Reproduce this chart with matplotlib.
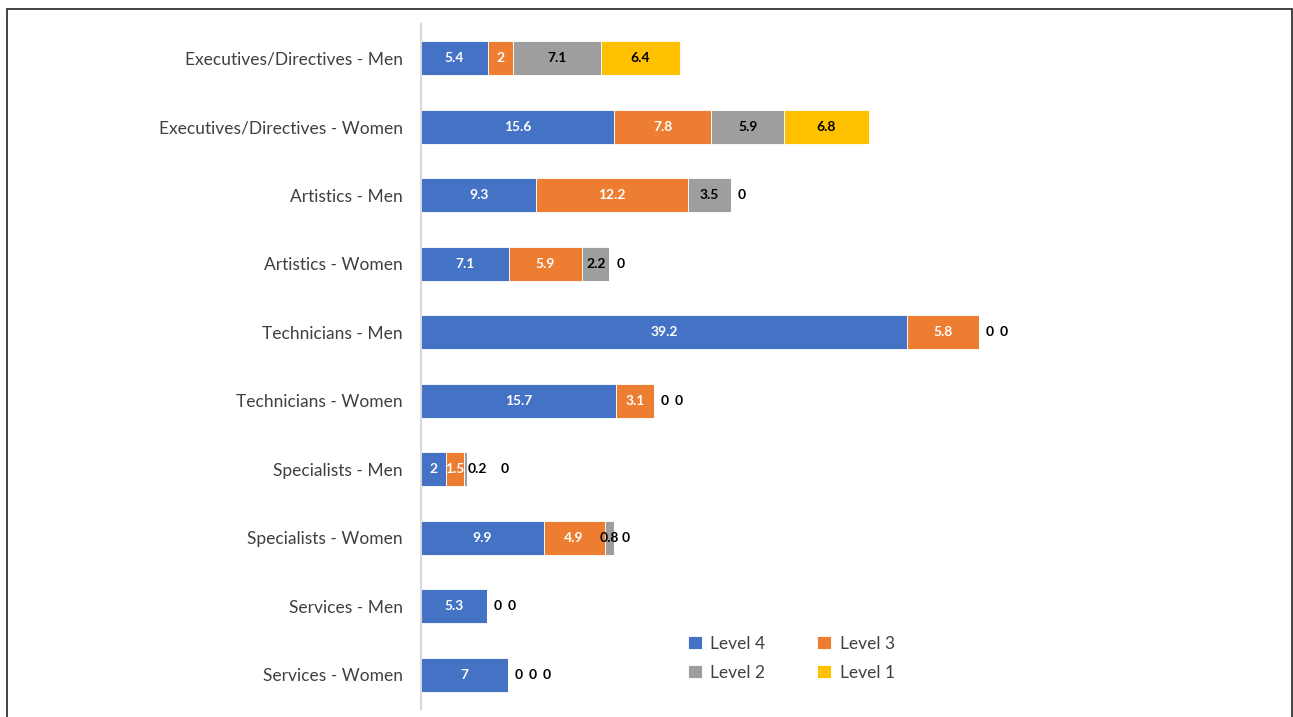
import numpy as np
import matplotlib
matplotlib.use("Agg")
import matplotlib.pyplot as plt
from matplotlib.patches import Rectangle

# data (top to bottom as shown)
categories = ["Executives/Directives - Men", "Executives/Directives - Women",
              "Artistics - Men", "Artistics - Women",
              "Technicians - Men", "Technicians - Women",
              "Specialists - Men", "Specialists - Women",
              "Services - Men", "Services - Women"]
level4 = [5.4, 15.6, 9.3, 7.1, 39.2, 15.7, 2, 9.9, 5.3, 7]
level3 = [2, 7.8, 12.2, 5.9, 5.8, 3.1, 1.5, 4.9, 0, 0]
level2 = [7.1, 5.9, 3.5, 2.2, 0, 0, 0.2, 0.8, 0, 0]
level1 = [6.4, 6.8, 0, 0, 0, 0, 0, 0, None, 0]
series_names = ["Level 4", "Level 3", "Level 2", "Level 1"]

colors = ["#4472C4", "#ED7D31", "#9E9E9E", "#FFC000"]
label_colors = ["white", "white", "black", "black"]

plt.rcParams['font.family'] = ['Lato', 'DejaVu Sans']

fig = plt.figure(figsize=(12.93, 7.17), dpi=100)
ax = fig.add_axes([421 / 1293, 8 / 717, 868 / 1293, 685 / 717])

series = [level4, level3, level2, level1]
y = np.arange(len(categories))
left = np.zeros(len(categories))
px = 868 / 70.0  # pixels per data unit
zero_count = np.zeros(len(categories))
bars = []

for k, (vals, name) in enumerate(zip(series, series_names)):
    v = np.array([0 if x is None else x for x in vals], dtype=float)
    b = ax.barh(y, v, left=left, height=0.5, color=colors[k],
                edgecolor="white", linewidth=0.6, label=name)
    bars.append(b)
    for i, val in enumerate(vals):
        if val is None:
            continue
        txt = "%g" % val
        if val == 0:
            # Excel piles zero labels just after the bar end
            xpos = left[i] + (11 + 14 * zero_count[i]) / px
            zero_count[i] += 1
            ax.text(xpos, y[i], txt, ha="center", va="center",
                    fontsize=10, fontweight="bold", color="black")
        elif val < 0.5:
            ax.text(left[i] + val + 1 / px, y[i], txt, ha="left", va="center",
                    fontsize=10, fontweight="bold", color="black")
            zero_count[i] += 1.9
        else:
            ax.text(left[i] + val / 2, y[i], txt, ha="center", va="center",
                    fontsize=10, fontweight="bold", color=label_colors[k])
    left = left + v

ax.set_xlim(0, 70)
ax.set_ylim(len(categories) - 0.5, -0.5)
ax.set_yticks(y)
ax.set_yticklabels(categories, fontsize=12.5, color="#404040")
ax.tick_params(axis="y", length=0, pad=13)
ax.set_xticks([])
for s in ["top", "right", "bottom"]:
    ax.spines[s].set_visible(False)
ax.spines["left"].set_color("#D9D9D9")
ax.spines["left"].set_linewidth(1.5)

# legend rows: Level 4, Level 3 / Level 2, Level 1
order = [0, 2, 1, 3]
leg = fig.legend([bars[j] for j in order], [series_names[j] for j in order],
                 loc="upper left", bbox_to_anchor=(672 / 1293, 1 - 620 / 717),
                 ncol=2, frameon=False, fontsize=12.5, handlelength=0.8,
                 handleheight=0.8, columnspacing=3.0, labelspacing=0.75,
                 handletextpad=0.5)
for t in leg.get_texts():
    t.set_color("#404040")

# outer frame
fig.patches.append(Rectangle((7 / 1293, -0.01), 1285 / 1293, 1 - 9 / 717 + 0.01,
                             transform=fig.transFigure, fill=False,
                             edgecolor="#222222", linewidth=1.2))

fig.savefig("out.png", dpi=100)
